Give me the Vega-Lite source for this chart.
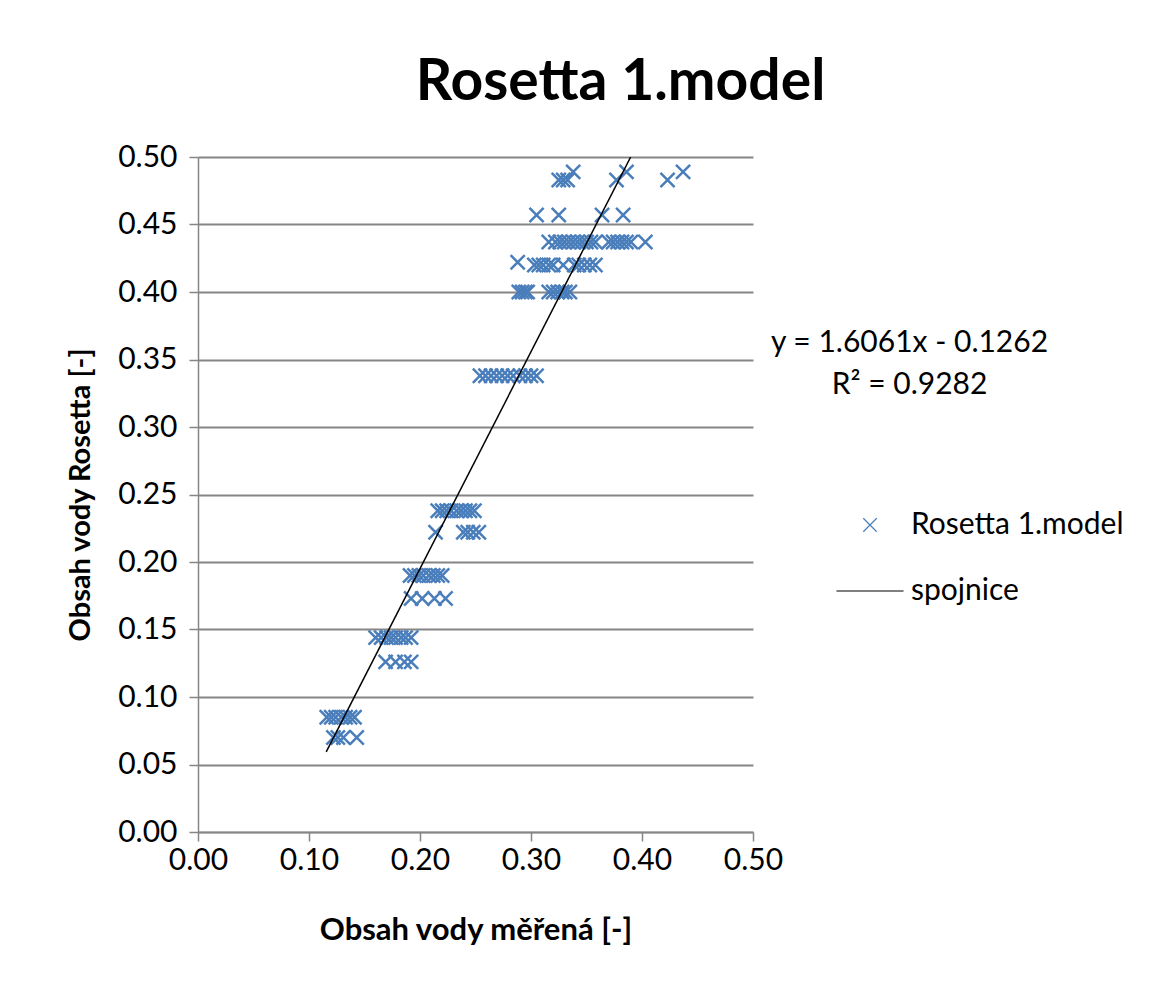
{
  "$schema": "https://vega.github.io/schema/vega-lite/v6.json",
  "width": 555,
  "height": 675,
  "autosize": {"type": "none"},
  "padding": {"left": 198, "top": 157, "right": 410, "bottom": 152},
  "background": "white",
  "config": {
    "font": "Lato",
    "view": {"stroke": null},
    "axis": {
      "labelFont": "Lato",
      "labelFontSize": 30,
      "labelColor": "#000000",
      "labelFlush": false,
      "labelOverlap": false,
      "titleFont": "Lato",
      "titleFontWeight": "bold",
      "titleColor": "#000000",
      "domainColor": "#868686",
      "domainWidth": 1.5,
      "tickColor": "#868686",
      "tickWidth": 1.5,
      "tickSize": 9,
      "gridColor": "#868686",
      "gridWidth": 2,
      "gridOpacity": 1
    },
    "legend": {
      "labelFont": "Lato",
      "labelFontSize": 30,
      "labelColor": "#000000",
      "labelLimit": 0
    }
  },
  "title": {
    "text": "Rosetta 1.model",
    "font": "Lato",
    "fontSize": 57,
    "fontWeight": "bold",
    "color": "#000000",
    "anchor": "middle",
    "frame": "group",
    "dx": 145,
    "offset": 30
  },
  "datasets": {
    "points": [
      {"measured": 0.338, "rosetta": 0.489, "series": "Rosetta 1.model"},
      {"measured": 0.386, "rosetta": 0.489, "series": "Rosetta 1.model"},
      {"measured": 0.437, "rosetta": 0.489, "series": "Rosetta 1.model"},
      {"measured": 0.325, "rosetta": 0.483, "series": "Rosetta 1.model"},
      {"measured": 0.329, "rosetta": 0.483, "series": "Rosetta 1.model"},
      {"measured": 0.333, "rosetta": 0.483, "series": "Rosetta 1.model"},
      {"measured": 0.377, "rosetta": 0.483, "series": "Rosetta 1.model"},
      {"measured": 0.423, "rosetta": 0.483, "series": "Rosetta 1.model"},
      {"measured": 0.305, "rosetta": 0.457, "series": "Rosetta 1.model"},
      {"measured": 0.325, "rosetta": 0.457, "series": "Rosetta 1.model"},
      {"measured": 0.364, "rosetta": 0.457, "series": "Rosetta 1.model"},
      {"measured": 0.383, "rosetta": 0.457, "series": "Rosetta 1.model"},
      {"measured": 0.316, "rosetta": 0.437, "series": "Rosetta 1.model"},
      {"measured": 0.322, "rosetta": 0.437, "series": "Rosetta 1.model"},
      {"measured": 0.326, "rosetta": 0.437, "series": "Rosetta 1.model"},
      {"measured": 0.330, "rosetta": 0.437, "series": "Rosetta 1.model"},
      {"measured": 0.334, "rosetta": 0.437, "series": "Rosetta 1.model"},
      {"measured": 0.338, "rosetta": 0.437, "series": "Rosetta 1.model"},
      {"measured": 0.342, "rosetta": 0.437, "series": "Rosetta 1.model"},
      {"measured": 0.346, "rosetta": 0.437, "series": "Rosetta 1.model"},
      {"measured": 0.350, "rosetta": 0.437, "series": "Rosetta 1.model"},
      {"measured": 0.354, "rosetta": 0.437, "series": "Rosetta 1.model"},
      {"measured": 0.358, "rosetta": 0.437, "series": "Rosetta 1.model"},
      {"measured": 0.370, "rosetta": 0.437, "series": "Rosetta 1.model"},
      {"measured": 0.374, "rosetta": 0.437, "series": "Rosetta 1.model"},
      {"measured": 0.378, "rosetta": 0.437, "series": "Rosetta 1.model"},
      {"measured": 0.382, "rosetta": 0.437, "series": "Rosetta 1.model"},
      {"measured": 0.386, "rosetta": 0.437, "series": "Rosetta 1.model"},
      {"measured": 0.390, "rosetta": 0.437, "series": "Rosetta 1.model"},
      {"measured": 0.403, "rosetta": 0.437, "series": "Rosetta 1.model"},
      {"measured": 0.288, "rosetta": 0.422, "series": "Rosetta 1.model"},
      {"measured": 0.303, "rosetta": 0.420, "series": "Rosetta 1.model"},
      {"measured": 0.307, "rosetta": 0.420, "series": "Rosetta 1.model"},
      {"measured": 0.311, "rosetta": 0.420, "series": "Rosetta 1.model"},
      {"measured": 0.316, "rosetta": 0.420, "series": "Rosetta 1.model"},
      {"measured": 0.320, "rosetta": 0.420, "series": "Rosetta 1.model"},
      {"measured": 0.329, "rosetta": 0.420, "series": "Rosetta 1.model"},
      {"measured": 0.339, "rosetta": 0.420, "series": "Rosetta 1.model"},
      {"measured": 0.343, "rosetta": 0.420, "series": "Rosetta 1.model"},
      {"measured": 0.348, "rosetta": 0.420, "series": "Rosetta 1.model"},
      {"measured": 0.353, "rosetta": 0.420, "series": "Rosetta 1.model"},
      {"measured": 0.358, "rosetta": 0.420, "series": "Rosetta 1.model"},
      {"measured": 0.289, "rosetta": 0.400, "series": "Rosetta 1.model"},
      {"measured": 0.292, "rosetta": 0.400, "series": "Rosetta 1.model"},
      {"measured": 0.295, "rosetta": 0.400, "series": "Rosetta 1.model"},
      {"measured": 0.297, "rosetta": 0.400, "series": "Rosetta 1.model"},
      {"measured": 0.316, "rosetta": 0.400, "series": "Rosetta 1.model"},
      {"measured": 0.320, "rosetta": 0.400, "series": "Rosetta 1.model"},
      {"measured": 0.324, "rosetta": 0.400, "series": "Rosetta 1.model"},
      {"measured": 0.328, "rosetta": 0.400, "series": "Rosetta 1.model"},
      {"measured": 0.331, "rosetta": 0.400, "series": "Rosetta 1.model"},
      {"measured": 0.335, "rosetta": 0.400, "series": "Rosetta 1.model"},
      {"measured": 0.254, "rosetta": 0.338, "series": "Rosetta 1.model"},
      {"measured": 0.259, "rosetta": 0.338, "series": "Rosetta 1.model"},
      {"measured": 0.264, "rosetta": 0.338, "series": "Rosetta 1.model"},
      {"measured": 0.269, "rosetta": 0.338, "series": "Rosetta 1.model"},
      {"measured": 0.274, "rosetta": 0.338, "series": "Rosetta 1.model"},
      {"measured": 0.279, "rosetta": 0.338, "series": "Rosetta 1.model"},
      {"measured": 0.284, "rosetta": 0.338, "series": "Rosetta 1.model"},
      {"measured": 0.290, "rosetta": 0.338, "series": "Rosetta 1.model"},
      {"measured": 0.295, "rosetta": 0.338, "series": "Rosetta 1.model"},
      {"measured": 0.300, "rosetta": 0.338, "series": "Rosetta 1.model"},
      {"measured": 0.305, "rosetta": 0.338, "series": "Rosetta 1.model"},
      {"measured": 0.216, "rosetta": 0.238, "series": "Rosetta 1.model"},
      {"measured": 0.220, "rosetta": 0.238, "series": "Rosetta 1.model"},
      {"measured": 0.224, "rosetta": 0.238, "series": "Rosetta 1.model"},
      {"measured": 0.228, "rosetta": 0.238, "series": "Rosetta 1.model"},
      {"measured": 0.233, "rosetta": 0.238, "series": "Rosetta 1.model"},
      {"measured": 0.237, "rosetta": 0.238, "series": "Rosetta 1.model"},
      {"measured": 0.241, "rosetta": 0.238, "series": "Rosetta 1.model"},
      {"measured": 0.245, "rosetta": 0.238, "series": "Rosetta 1.model"},
      {"measured": 0.249, "rosetta": 0.238, "series": "Rosetta 1.model"},
      {"measured": 0.214, "rosetta": 0.222, "series": "Rosetta 1.model"},
      {"measured": 0.239, "rosetta": 0.222, "series": "Rosetta 1.model"},
      {"measured": 0.243, "rosetta": 0.222, "series": "Rosetta 1.model"},
      {"measured": 0.248, "rosetta": 0.222, "series": "Rosetta 1.model"},
      {"measured": 0.253, "rosetta": 0.222, "series": "Rosetta 1.model"},
      {"measured": 0.191, "rosetta": 0.190, "series": "Rosetta 1.model"},
      {"measured": 0.195, "rosetta": 0.190, "series": "Rosetta 1.model"},
      {"measured": 0.199, "rosetta": 0.190, "series": "Rosetta 1.model"},
      {"measured": 0.203, "rosetta": 0.190, "series": "Rosetta 1.model"},
      {"measured": 0.208, "rosetta": 0.190, "series": "Rosetta 1.model"},
      {"measured": 0.212, "rosetta": 0.190, "series": "Rosetta 1.model"},
      {"measured": 0.216, "rosetta": 0.190, "series": "Rosetta 1.model"},
      {"measured": 0.220, "rosetta": 0.190, "series": "Rosetta 1.model"},
      {"measured": 0.192, "rosetta": 0.173, "series": "Rosetta 1.model"},
      {"measured": 0.202, "rosetta": 0.173, "series": "Rosetta 1.model"},
      {"measured": 0.213, "rosetta": 0.173, "series": "Rosetta 1.model"},
      {"measured": 0.223, "rosetta": 0.173, "series": "Rosetta 1.model"},
      {"measured": 0.160, "rosetta": 0.144, "series": "Rosetta 1.model"},
      {"measured": 0.165, "rosetta": 0.144, "series": "Rosetta 1.model"},
      {"measured": 0.170, "rosetta": 0.144, "series": "Rosetta 1.model"},
      {"measured": 0.174, "rosetta": 0.144, "series": "Rosetta 1.model"},
      {"measured": 0.178, "rosetta": 0.144, "series": "Rosetta 1.model"},
      {"measured": 0.183, "rosetta": 0.144, "series": "Rosetta 1.model"},
      {"measured": 0.187, "rosetta": 0.144, "series": "Rosetta 1.model"},
      {"measured": 0.192, "rosetta": 0.144, "series": "Rosetta 1.model"},
      {"measured": 0.169, "rosetta": 0.126, "series": "Rosetta 1.model"},
      {"measured": 0.178, "rosetta": 0.126, "series": "Rosetta 1.model"},
      {"measured": 0.186, "rosetta": 0.126, "series": "Rosetta 1.model"},
      {"measured": 0.192, "rosetta": 0.126, "series": "Rosetta 1.model"},
      {"measured": 0.116, "rosetta": 0.085, "series": "Rosetta 1.model"},
      {"measured": 0.120, "rosetta": 0.085, "series": "Rosetta 1.model"},
      {"measured": 0.124, "rosetta": 0.085, "series": "Rosetta 1.model"},
      {"measured": 0.129, "rosetta": 0.085, "series": "Rosetta 1.model"},
      {"measured": 0.133, "rosetta": 0.085, "series": "Rosetta 1.model"},
      {"measured": 0.137, "rosetta": 0.085, "series": "Rosetta 1.model"},
      {"measured": 0.141, "rosetta": 0.085, "series": "Rosetta 1.model"},
      {"measured": 0.122, "rosetta": 0.070, "series": "Rosetta 1.model"},
      {"measured": 0.126, "rosetta": 0.070, "series": "Rosetta 1.model"},
      {"measured": 0.131, "rosetta": 0.070, "series": "Rosetta 1.model"},
      {"measured": 0.143, "rosetta": 0.070, "series": "Rosetta 1.model"}
    ],
    "trend": [
      {"measured": 0.1155, "rosetta": 0.0593, "series": "spojnice"},
      {"measured": 0.3898, "rosetta": 0.5, "series": "spojnice"}
    ],
    "note": [
      {"label": "trendline"}
    ]
  },
  "layer": [
    {
      "data": {"name": "points"},
      "mark": {"type": "point", "shape": "M-1,-1L1,1M-1,1L1,-1", "filled": false, "strokeWidth": 2.5, "size": 200, "opacity": 1},
      "encoding": {
        "x": {
          "field": "measured",
          "type": "quantitative",
          "scale": {"domain": [0, 0.5], "nice": false, "zero": false},
          "axis": {
            "title": "Obsah vody měřená [-]",
            "titleFontSize": 31,
            "values": [0, 0.1, 0.2, 0.3, 0.4, 0.5],
            "format": ".2f",
            "grid": false,
            "labelPadding": 4,
            "titlePadding": 40
          }
        },
        "y": {
          "field": "rosetta",
          "type": "quantitative",
          "scale": {"domain": [0, 0.5], "nice": false, "zero": false},
          "axis": {
            "title": "Obsah vody Rosetta [-]",
            "titleFontSize": 29,
            "values": [0, 0.05, 0.1, 0.15, 0.2, 0.25, 0.3, 0.35, 0.4, 0.45, 0.5],
            "format": ".2f",
            "labelPadding": 12,
            "titlePadding": 22
          }
        },
        "color": {
          "field": "series",
          "type": "nominal",
          "scale": {"domain": ["Rosetta 1.model", "spojnice"], "range": ["#4A7EBB", "#000000"]},
          "legend": {
            "title": null,
            "orient": "none",
            "legendX": 657,
            "legendY": 353,
            "symbolSize": 180,
            "symbolStrokeWidth": 1.2,
            "labelOffset": 26,
            "rowPadding": 36
          }
        },
        "shape": {
          "field": "series",
          "type": "nominal",
          "scale": {"domain": ["Rosetta 1.model", "spojnice"], "range": ["M-1,-1L1,1M-1,1L1,-1", "M-5,0L5,0"]}
        }
      }
    },
    {
      "data": {"name": "trend"},
      "mark": {"type": "line", "color": "#000000", "strokeWidth": 1.5, "clip": true},
      "encoding": {
        "x": {"field": "measured", "type": "quantitative"},
        "y": {"field": "rosetta", "type": "quantitative"}
      }
    },
    {
      "data": {"name": "note"},
      "mark": {"type": "text", "align": "center", "baseline": "middle", "fontSize": 30, "font": "Lato", "color": "#000000", "lineHeight": 42},
      "encoding": {
        "x": {"datum": 0.641},
        "y": {"datum": 0.362},
        "text": {"value": ["y = 1.6061x - 0.1262", "R² = 0.9282"]}
      }
    }
  ]
}
